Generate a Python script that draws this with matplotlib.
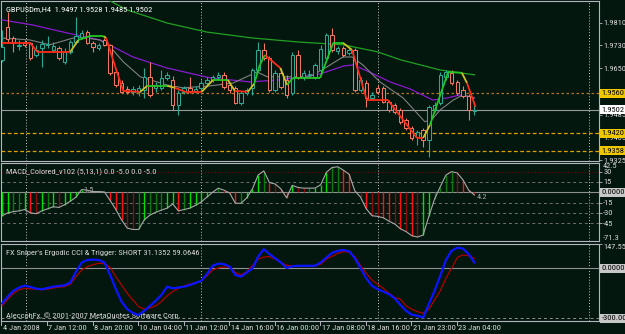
import numpy as np
import matplotlib
matplotlib.use("Agg")
import matplotlib.pyplot as plt
import matplotlib.font_manager as fm
from matplotlib.collections import LineCollection
from matplotlib.transforms import blended_transform_factory

# GBPUSDm H4 candles (4 Jan 2008 .. 23 Jan 2008)
opens = [1.9679, 1.9795, 1.9756, 1.9728, 1.9739, 1.9739, 1.9696, 1.9721, 1.9732, 1.9714,
         1.9721, 1.9672, 1.9707, 1.9742, 1.9760, 1.9777, 1.9739, 1.9721, 1.9749, 1.9732,
         1.9636, 1.9597, 1.9576, 1.9566, 1.9566, 1.9573, 1.9619, 1.9580, 1.9580, 1.9615,
         1.9608, 1.9520, 1.9566, 1.9580, 1.9569, 1.9580, 1.9597, 1.9608, 1.9619, 1.9626,
         1.9590, 1.9580, 1.9527, 1.9562, 1.9580, 1.9643, 1.9714, 1.9686, 1.9573, 1.9633,
         1.9608, 1.9562, 1.9696, 1.9619, 1.9626, 1.9619, 1.9643, 1.9686, 1.9767, 1.9710,
         1.9721, 1.9703, 1.9714, 1.9573, 1.9597, 1.9544, 1.9580, 1.9580, 1.9530, 1.9520,
         1.9502, 1.9467, 1.9438, 1.9407, 1.9431, 1.9396, 1.9502, 1.9527, 1.9619, 1.9633,
         1.9601, 1.9573, 1.9551, 1.9497]
highs = [1.9785, 1.9848, 1.9763, 1.9749, 1.9749, 1.9742, 1.9732, 1.9749, 1.9763, 1.9742,
         1.9728, 1.9721, 1.9749, 1.9830, 1.9785, 1.9785, 1.9746, 1.9739, 1.9756, 1.9735,
         1.9643, 1.9608, 1.9587, 1.9587, 1.9590, 1.9650, 1.9672, 1.9601, 1.9643, 1.9636,
         1.9622, 1.9573, 1.9587, 1.9619, 1.9587, 1.9608, 1.9619, 1.9626, 1.9636, 1.9636,
         1.9597, 1.9587, 1.9569, 1.9580, 1.9650, 1.9742, 1.9739, 1.9693, 1.9643, 1.9650,
         1.9626, 1.9707, 1.9714, 1.9643, 1.9643, 1.9668, 1.9732, 1.9774, 1.9792, 1.9728,
         1.9728, 1.9725, 1.9721, 1.9619, 1.9608, 1.9566, 1.9590, 1.9587, 1.9537, 1.9527,
         1.9509, 1.9474, 1.9445, 1.9431, 1.9438, 1.9520, 1.9530, 1.9636, 1.9643, 1.9643,
         1.9608, 1.9587, 1.9558, 1.9528]
lows = [1.9672, 1.9742, 1.9707, 1.9714, 1.9725, 1.9679, 1.9689, 1.9654, 1.9721, 1.9707,
        1.9679, 1.9664, 1.9700, 1.9735, 1.9753, 1.9735, 1.9707, 1.9714, 1.9728, 1.9626,
        1.9583, 1.9562, 1.9558, 1.9555, 1.9551, 1.9544, 1.9548, 1.9566, 1.9573, 1.9608,
        1.9502, 1.9484, 1.9558, 1.9562, 1.9562, 1.9573, 1.9587, 1.9601, 1.9611, 1.9576,
        1.9562, 1.9523, 1.9520, 1.9555, 1.9555, 1.9636, 1.9679, 1.9566, 1.9566, 1.9576,
        1.9544, 1.9555, 1.9611, 1.9608, 1.9615, 1.9611, 1.9636, 1.9679, 1.9707, 1.9700,
        1.9689, 1.9696, 1.9566, 1.9566, 1.9513, 1.9537, 1.9558, 1.9527, 1.9495, 1.9488,
        1.9453, 1.9431, 1.9396, 1.9378, 1.9371, 1.9336, 1.9495, 1.9520, 1.9608, 1.9590,
        1.9555, 1.9544, 1.9467, 1.9485]
closes = [1.9725, 1.9753, 1.9739, 1.9732, 1.9732, 1.9686, 1.9714, 1.9735, 1.9735, 1.9728,
          1.9686, 1.9707, 1.9742, 1.9763, 1.9774, 1.9739, 1.9725, 1.9732, 1.9732, 1.9633,
          1.9590, 1.9566, 1.9566, 1.9576, 1.9580, 1.9619, 1.9555, 1.9590, 1.9615, 1.9626,
          1.9520, 1.9562, 1.9580, 1.9569, 1.9576, 1.9597, 1.9608, 1.9619, 1.9626, 1.9583,
          1.9573, 1.9527, 1.9562, 1.9573, 1.9643, 1.9714, 1.9686, 1.9573, 1.9633, 1.9583,
          1.9555, 1.9696, 1.9619, 1.9633, 1.9629, 1.9661, 1.9717, 1.9767, 1.9714, 1.9721,
          1.9696, 1.9714, 1.9573, 1.9608, 1.9544, 1.9555, 1.9566, 1.9530, 1.9502, 1.9495,
          1.9460, 1.9438, 1.9403, 1.9424, 1.9396, 1.9513, 1.9520, 1.9626, 1.9636, 1.9597,
          1.9562, 1.9551, 1.9502, 1.9502]

# moving averages (bar index, price)
green_ma_x = [10, 17, 22, 29, 36, 44, 52, 60, 66, 70, 77, 83]
green_ma = [1.9943, 1.9908, 1.9855, 1.9809, 1.9777, 1.9756, 1.9742, 1.9732, 1.9707, 1.9679, 1.9643, 1.9626]
purple_ma_x = [0, 5.4, 11.4, 17.2, 23, 29, 36.6, 43.6, 48.9, 55.9, 60, 61.7, 64.1, 68.2, 71.7, 75.7, 78.2, 80.5, 83]
purple_ma = [1.9820, 1.9802, 1.9774, 1.9749, 1.9689, 1.9650, 1.9615, 1.9601, 1.9608, 1.9629,
             1.9657, 1.9661, 1.9640, 1.9601, 1.9576, 1.9537, 1.9544, 1.9555, 1.9544]
grey_ma_x = [0, 4.9, 8.4, 13.2, 17.2, 19, 21.3, 24.3, 29, 31.8, 36.6, 40.6, 44.8, 46.6, 54.1,
             57.1, 59.9, 61.5, 63.4, 66.4, 70.5, 72.9, 74.3, 75.6, 77, 79.3, 81, 83]
grey_ma = [1.9756, 1.9749, 1.9732, 1.9760, 1.9749, 1.9725, 1.9672, 1.9619, 1.9590, 1.9580,
           1.9587, 1.9597, 1.9636, 1.9619, 1.9619, 1.9654, 1.9689, 1.9689, 1.9661, 1.9601,
           1.9544, 1.9491, 1.9460, 1.9470, 1.9502, 1.9537, 1.9555, 1.9544]

# coloured trend line (r = down, g = up, y = turning)
step_x = [0, 4.9, 6.2, 12.0, 13.4, 15.5, 17.8, 18.3, 19.9, 21.3, 24.3, 25.5, 29.0, 30.4, 32.2,
          35.1, 37.1, 39.7, 40.9, 43.2, 44.3, 45.3, 46.2, 48.9, 50.1, 51.1, 55.9, 58.2, 59.9,
          61.5, 64.1, 67.8, 72.9, 74.0, 75.2, 78.4, 80.8, 81.7, 83.2]
step_y = [1.9739, 1.9739, 1.9707, 1.9707, 1.9749, 1.9763, 1.9763, 1.9756, 1.9654, 1.9569,
          1.9566, 1.9587, 1.9587, 1.9580, 1.9566, 1.9566, 1.9608, 1.9608, 1.9569, 1.9566,
          1.9594, 1.9661, 1.9696, 1.9650, 1.9590, 1.9615, 1.9615, 1.9739, 1.9739, 1.9714,
          1.9537, 1.9537, 1.9403, 1.9403, 1.9449, 1.9636, 1.9633, 1.9597, 1.9513]
step_state = ['r', 'r', 'r', 'y', 'g', 'g', 'y', 'r', 'r', 'r', 'y', 'g', 'y', 'r', 'r', 'y', 'g',
              'y', 'r', 'y', 'g', 'g', 'r', 'y', 'g', 'g', 'g', 'g', 'y', 'r', 'r', 'r', 'r', 'y',
              'g', 'g', 'y', 'r']

levels = {'resist': 1.9560, 'bid': 1.9502, 'sup1': 1.9420, 'sup2': 1.9358}

macd = [-34, -30, -28, -27, -25, -30, -31, -27, -24, -21, -22, -18, -13, -7, 4, 3, 1, 1, 0.5, -12,
        -25, -40, -52, -54, -54, -40, -33, -29, -26, -23, -17, -27, -25, -23, -19, -14, -7, 0, 6, 3,
        -1, -16, -16, -8, 5, 25, 31, 14, 12, 5, -8, 10, 7, 6, 6, 6, 11, 29, 36, 37,
        32, 26, 2, -7, -24, -34, -35, -37, -42, -46, -53, -57, -63, -65, -62, -35, -10, 8, 25, 30,
        28, 18, 3, -4]

cci_blue = [-210, -170, -135, -115, -104, -112, -122, -126, -118, -110, -106, -102, -85, -20, 35, 50,
            52, 50, 35, -40, -125, -200, -245, -268, -280, -255, -225, -195, -160, -110, -120, -115,
            -110, -100, -88, -75, -35, 15, 28, 25, 10, -40, -50, -25, 0, 70, 115, 85, 60, 35, 2, 12,
            15, 15, 15, 15, 35, 65, 92, 105, 110, 102, 60, 0, -60, -105, -125, -140, -155, -180,
            -220, -255, -278, -285, -295, -215, -135, -45, 50, 105, 124, 118, 85, 35]
cci_red = [-225, -185, -150, -128, -120, -123, -126, -128, -125, -118, -113, -110, -95, -50, -10, 10,
           22, 30, 28, 5, -50, -100, -150, -190, -230, -245, -238, -225, -200, -165, -140, -120,
           -105, -95, -85, -78, -45, -10, 2, 8, 8, -25, -40, -20, 15, 55, 68, 70, 55, 35, 18, 15,
           15, 15, 15, 15, 25, 55, 72, 90, 100, 97, 70, 15, -30, -70, -95, -120, -150, -175,
           -185, -225, -245, -260, -270, -245, -190, -135, -60, 0, 65, 80, 75, 60]

time_labels = ['4 Jan 2008', '7 Jan 12:00', '8 Jan 20:00', '10 Jan 04:00', '11 Jan 12:00',
               '14 Jan 16:00', '16 Jan 00:00', '17 Jan 08:00', '18 Jan 16:00', '21 Jan 23:00',
               '23 Jan 04:00']

# pick a narrow font if one is installed, otherwise a small Liberation Sans
avail = fm.fontManager.ttflist
FAMILY, STRETCH, FS = 'Liberation Sans', 'normal', 5.2
for cand in ('Liberation Sans Narrow', 'DejaVu Sans Condensed', 'Roboto Condensed',
             'Noto Sans Condensed', 'Open Sans Condensed', 'Arial Narrow'):
    if any(f.name == cand for f in avail):
        FAMILY, FS = cand, 6
        break
else:
    for f in avail:
        if f.name in ('Noto Sans', 'Roboto', 'Open Sans', 'DejaVu Sans') and \
                str(f.stretch) in ('condensed', 'semi-condensed', 'extra-condensed'):
            FAMILY, STRETCH, FS = f.name, str(f.stretch), 6
            break
plt.rcParams['font.family'] = [FAMILY, 'DejaVu Sans']
plt.rcParams['font.stretch'] = STRETCH

bg = '#03170f'
fg = '#d8d8d8'
frame = '#b4b4bc'
bull = '#2aa894'
bear = '#f07860'
grid_x = [4.22, 34.97, 66.08, 103.16]

W, H = 625, 334
fig = plt.figure(figsize=(W / 100, H / 100), dpi=100, facecolor=bg)


def panel(top, bottom, ylim):
    ax = fig.add_axes([1 / W, 1 - bottom / H, 598 / W, (bottom - top) / H])
    ax.set_facecolor(bg)
    for s in ax.spines.values():
        s.set_color(frame)
        s.set_linewidth(0.8)
    ax.set_xlim(-0.18, 104.9)
    ax.set_ylim(*ylim)
    ax.set_xticks([])
    ax.yaxis.tick_right()
    ax.tick_params(axis='y', length=2.0, width=0.6, color=frame, labelsize=FS, labelcolor=fg, pad=1.0)
    for gx in grid_x:
        ax.axvline(gx, color='#c8c8c8', lw=0.7, ls=(0, (1, 2)), zorder=1)
    return ax


def tag(ax, y, txt, fc, tc='black', va='center'):
    ax.text(1.004, y, txt, transform=ax.get_yaxis_transform(), fontsize=FS, color=tc, va=va, ha='left',
            bbox=dict(boxstyle='square,pad=0.18', fc=fc, ec='none'), clip_on=False, zorder=10)


# ---- main price panel ----
ax1 = panel(1, 161, (1.93215, 1.98867))
x = np.arange(len(closes))
o, h, l, c = map(np.array, (opens, highs, lows, closes))
cols = [bull if cc >= oo else bear for oo, cc in zip(o, c)]

ax1.axhline(levels['resist'], color='#b8741c', lw=0.9, ls=(0, (2, 2)), zorder=1)
ax1.axhline(levels['bid'], color='#9a9a9a', lw=0.8, zorder=1)
ax1.axhline(levels['sup1'], color='#e0a000', lw=0.9, ls=(0, (3, 2)), zorder=1)
ax1.axhline(levels['sup2'], color='#e0a000', lw=0.9, ls=(0, (3, 2)), zorder=1)

ax1.plot(green_ma_x, green_ma, color='#22a022', lw=0.9, zorder=3)
ax1.plot(purple_ma_x, purple_ma, color='#8a1ad0', lw=0.9, zorder=3)
ax1.plot(grey_ma_x, grey_ma, color='#808080', lw=0.8, zorder=3)

ax1.vlines(x, l, h, colors=cols, lw=0.8, zorder=4)
body_lo = np.minimum(o, c)
body_h = np.maximum(np.abs(c - o), 0.00006)
ax1.bar(x, body_h, bottom=body_lo, width=0.6, facecolor=bg, edgecolor=cols, linewidth=0.75, zorder=5)

step_col = {'r': '#ff2a1a', 'g': '#22c822', 'y': '#d0c020'}
pts = np.column_stack([step_x, step_y])
segs = [pts[i:i + 2] for i in range(len(pts) - 1)]
ax1.add_collection(LineCollection(segs, colors=[step_col[s] for s in step_state], linewidths=1.3, zorder=6))

ax1.set_yticks([1.9810, 1.9730, 1.9650, 1.9485, 1.9405, 1.9325],
               ['1.9810', '1.9730', '1.9650', '1.9485', '1.9405', '1.9325'])
tag(ax1, levels['resist'], '1.9560', '#f0c800')
tag(ax1, levels['bid'], '1.9502', '#ffffff')
tag(ax1, levels['sup1'], '1.9420', '#f0c800')
tag(ax1, levels['sup2'], '1.9358', '#f0c800')
ax1.text(0.008, 0.965, 'GBPUSDm,H4  1.9497 1.9528 1.9485 1.9502', transform=ax1.transAxes,
         fontsize=FS, color='white', va='top', ha='left')

# ---- MACD panel ----
ax2 = panel(163, 241.4, (-71.3, 42.5))
ax2.axhline(0, color='#909090', lw=0.8, zorder=2)
ax2.axhline(30, color='#7a0000', lw=0.8, ls=(0, (1, 2)), zorder=1)
for lv in (15, -15, -30, -45):
    ax2.axhline(lv, color='#707070', lw=0.7, ls=(0, (3, 3)), zorder=1)
m = np.array(macd, dtype=float)
hcols = []
for i in range(len(m)):
    d = m[i] - m[i - 1] if i > 0 else 1.0
    dp = m[i - 1] - m[i - 2] if i > 1 else d
    fast = abs(d) >= abs(dp)
    if d >= 0:
        hcols.append('#00e000' if fast else '#0a7a0a')
    else:
        hcols.append('#ff1010' if fast else '#8a0a0a')
ax2.vlines(x, 0, m, colors=hcols, lw=1.0, zorder=3)
ax2.plot(x, m, color='#a8a8a8', lw=0.8, zorder=4)
ax2.set_yticks([30, 15, -15, -30, -45], ['30', '15', '-15', '-30', '-45'])
yt2 = ax2.get_yaxis_transform()
ax2.text(1.007, 42.5, '42.5', transform=yt2, fontsize=FS, color=fg, va='top', ha='left', clip_on=False)
ax2.text(1.007, -71.3, '-71.3', transform=yt2, fontsize=FS, color=fg, va='bottom', ha='left', clip_on=False)
tag(ax2, 0, '0.0000', '#c8c8c8')
ax2.text(0.008, 0.93, 'MACD_Colored_v102 (5,13,1) 0.0 -5.0 0.0 -5.0', transform=ax2.transAxes,
         fontsize=FS, color=fg, va='top', ha='left')
ax2.text(14.3, 3.0, '1.5', fontsize=FS, color='#a8a8a8', va='center', ha='left')
ax2.text(83.4, -6.5, '4.2', fontsize=FS, color='#a8a8a8', va='center', ha='left')

# ---- Ergodic CCI panel ----
ax3 = panel(243.7, 321, (-316, 147.553))
ax3.axhline(0, color='#909090', lw=0.8, zorder=2)
ax3.axhline(-300, color='#909090', lw=0.7, ls=(0, (3, 3)), zorder=1)
ax3.plot(x, cci_red, color='#b00000', lw=0.9, zorder=3)
ax3.plot(x, cci_blue, color='#0a14ff', lw=1.6, zorder=4)
ax3.set_yticks([147.553, 0, -300], ['', '', ''])
yt3 = ax3.get_yaxis_transform()
ax3.text(1.007, 147.553, '147.5535', transform=yt3, fontsize=FS, color=fg, va='top', ha='left', clip_on=False)
tag(ax3, 0, '0.0000', '#c8c8c8')
tag(ax3, -300, '-300.00', '#c8c8c8')
ax3.text(0.008, 0.92, "FX Sniper's Ergodic CCI & Trigger: SHORT 31.1352 59.0646", transform=ax3.transAxes,
         fontsize=FS, color=fg, va='top', ha='left')
ax3.text(0.008, 0.03, 'AleccohFx, \u00a9 2001-2007 MetaQuotes Software Corp.', transform=ax3.transAxes,
         fontsize=FS, color=fg, va='bottom', ha='left')

# time axis
tb = blended_transform_factory(ax3.transData, ax3.transAxes)
for k, lab in enumerate(time_labels):
    bx = 8 * k
    ax3.plot([bx - 0.1, bx - 0.1], [0, -0.05], transform=tb, color=frame, lw=0.7, clip_on=False)
    ax3.text(bx + 0.15, -0.085, lab, transform=tb, fontsize=FS, color=fg, va='center', ha='left',
             clip_on=False)

fig.savefig('out.png', dpi=100, facecolor=bg)
